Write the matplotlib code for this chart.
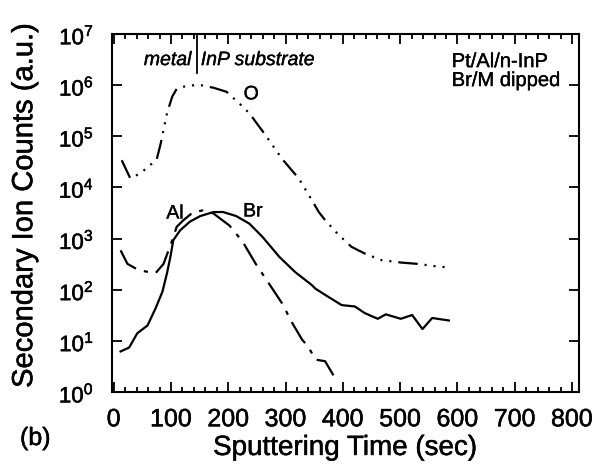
import numpy as np
import matplotlib
matplotlib.use('Agg')
import matplotlib.pyplot as plt
import matplotlib.patheffects as pe
from matplotlib.ticker import MultipleLocator, FixedLocator, NullLocator

plt.rcParams['font.family'] = ['Liberation Sans', 'DejaVu Sans']
plt.rcParams['mathtext.fontset'] = 'custom'
plt.rcParams['mathtext.rm'] = 'Liberation Sans'
plt.rcParams['lines.scale_dashes'] = False

# values (time in sec, counts in a.u.)
o_time = [14, 29, 47, 75, 82, 93, 102, 110, 125, 148, 174, 197, 222, 237, 265,
          294, 323, 346, 358, 369, 392, 415, 438, 467, 501, 530, 559, 587]
o_counts = [3.4e4, 1.5e4, 1.9e4, 3.5e4, 7.2e4, 2.8e5, 5.9e5, 8.5e5, 9.5e5, 1.02e6,
            8.9e5, 7.4e5, 4.1e5, 2.8e5, 1.05e5, 3.6e4, 1.5e4, 5.6e3, 3.3e3, 2.3e3,
            1.2e3, 690, 510, 380, 340, 320, 290, 270]

br_time = [12, 27, 41, 59, 73, 85, 93, 99, 104, 116, 133, 151, 174, 191, 214, 237,
           260, 289, 317, 346, 352, 375, 398, 421, 438, 461, 475, 501, 521, 539,
           556, 585]
br_counts = [6.2, 7.4, 14, 20, 43, 91, 210, 440, 930, 1450, 2140, 2750, 3300, 3300,
             2750, 1950, 1070, 440, 220, 123, 105, 72, 50, 47, 35, 27, 33, 27, 32,
             17, 28, 25]

al_time = [12, 24, 44, 73, 87, 99, 110, 122, 139, 156, 174, 202, 225, 248, 271,
           294, 312, 329, 340, 352, 369, 390]
al_counts = [590, 320, 240, 210, 320, 740, 1700, 2300, 3300, 3550, 3100, 1800, 870,
             320, 132, 54, 22, 10.5, 7.6, 4.3, 4.0, 1.6]

boundary_time = 146

# light stroke to mimic the heavier scanned lettering
thick = [pe.withStroke(linewidth=0.35, foreground='black')]

fig = plt.figure(figsize=(6.04, 4.68), dpi=100)
ax = fig.add_axes([0.1854, 0.1624, 0.773, 0.765])

ax.plot(o_time, o_counts, color='black', lw=1.6,
        linestyle=(0, (14, 5, 1.5, 5, 1.5, 5, 1.5, 5)))
ax.plot(br_time, br_counts, color='black', lw=1.6)
ax.plot(al_time, al_counts, color='black', lw=1.6,
        linestyle=(0, (18, 6, 3, 6)))

ax.plot([boundary_time, boundary_time], [10**6.23, 1e7], color='black', lw=1.3)

ax.set_yscale('log')
ax.set_xlim(-3, 812)
ax.set_ylim(1, 1e7)
ax.yaxis.set_major_locator(FixedLocator([10.0**k for k in range(8)]))
ax.yaxis.set_minor_locator(NullLocator())
ax.xaxis.set_major_locator(MultipleLocator(100))
ax.xaxis.set_minor_locator(MultipleLocator(20))

ax.tick_params(axis='both', which='both', direction='in', top=True, right=True,
               width=1.3)
ax.tick_params(axis='both', which='major', length=7)
ax.tick_params(axis='x', which='minor', length=3.5)
ax.tick_params(axis='x', which='major', labelsize=18, pad=11)
ax.tick_params(axis='y', which='major', labelsize=16, pad=13)
for s in ax.spines.values():
    s.set_linewidth(1.5)

ax.set_xlabel('Sputtering Time (sec)', fontsize=20, path_effects=thick)
ax.set_ylabel('Secondary Ion Counts (a.u.)', fontsize=21, path_effects=thick)
ax.xaxis.set_label_coords(0.499, -0.12)
ax.yaxis.set_label_coords(-0.158, 0.52)
for lbl in ax.get_xticklabels() + ax.get_yticklabels():
    lbl.set_path_effects(thick)

ax.text(136, 10**6.48, 'metal', fontsize=14, style='italic', ha='right', va='center')
ax.text(152, 10**6.48, 'InP substrate', fontsize=14, style='italic', ha='left', va='center')
ax.text(590, 10**6.46, 'Pt/Al/n-InP', fontsize=14.5, ha='left', va='center')
ax.text(590, 10**6.09, 'Br/M dipped', fontsize=14.5, ha='left', va='center')
ax.text(240, 10**5.81, 'O', fontsize=14, ha='center', va='center')
ax.text(107, 10**3.48, 'Al', fontsize=14, ha='center', va='center')
ax.text(243, 10**3.52, 'Br', fontsize=14, ha='center', va='center')
for t in ax.texts:
    t.set_path_effects([pe.withStroke(linewidth=0.25, foreground='black')])

fig.text(20 / 604, 1 - 438 / 468, '(b)', fontsize=18, ha='left', va='center',
         path_effects=thick)

fig.savefig('out.png', dpi=100)
